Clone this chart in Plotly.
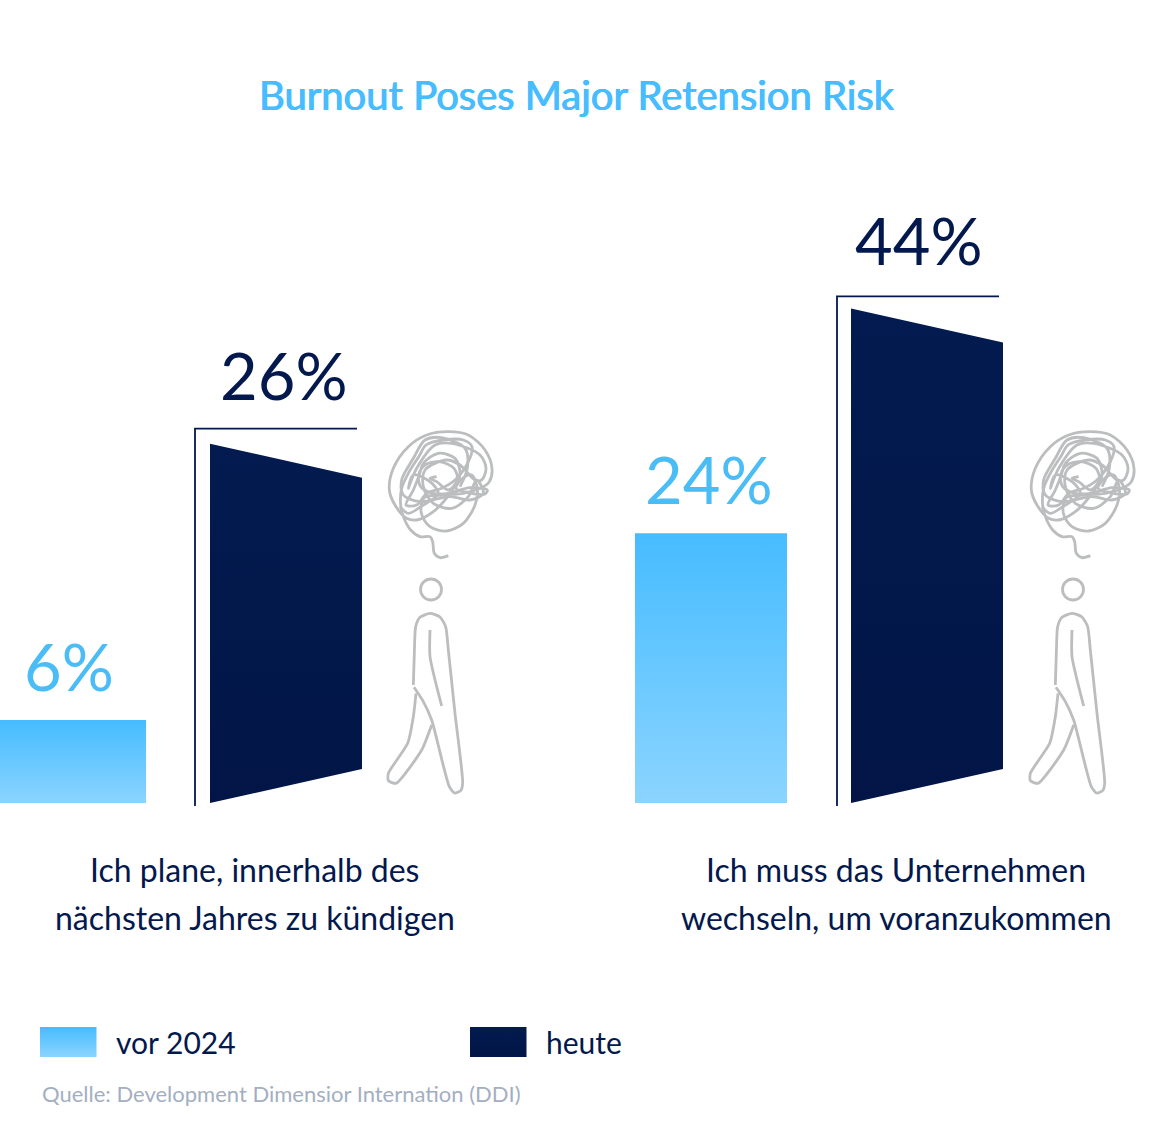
import plotly.graph_objects as go

# Survey values, in percent
categories = [
    ["Ich plane, innerhalb des", "nächsten Jahres zu kündigen"],
    ["Ich muss das Unternehmen", "wechseln, um voranzukommen"],
]
series_names = ["vor 2024", "heute"]
vor_2024 = [6, 24]
heute = [26, 44]

WIDTH, HEIGHT = 1152, 1122
BASELINE = 803
PX_PER_PERCENT = [13.82, 11.24]   # each group has its own height scale
AXES = ["y", "y2"]
BAR_LEFT = [-6, 635]
DOOR_LEFT = [210, 851]
BAR_W = 152
SKEW = 34

NAVY = "#03184C"
SKY = "#47BDFF"
SKY_TEXT = "#4ABCF6"
GREY = "#BBBDBE"
SKY_FADE = dict(type="vertical", colorscale=[[0, "#8BD4FF"], [1, "#46BCFF"]])
NAVY_FADE = dict(type="vertical", colorscale=[[0, "#021546"], [1, "#031B50"]])

FONT = "Lato"
fig = go.Figure()


def px_line(xs, ys, dx=0, width=2.8, smoothing=1.0):
    """Thin grey illustration stroke, in page pixels."""
    fig.add_trace(go.Scatter(
        x=[x + dx for x in xs], y=ys, yaxis="y3", mode="lines",
        line=dict(color=GREY, width=width, shape="spline", smoothing=smoothing, simplify=False),
        hoverinfo="skip", showlegend=False))


def scaled(points, ox, oy):
    return [ox + p[0] / 3 for p in points], [oy + p[1] / 3 for p in points]


# Tangled thought above the walking figure: the tail and main pen stroke...
TANGLE = [
    (205, 392), (180, 398), (163, 385), (158, 350), (150, 335), (120, 335), (92, 315), (72, 280), (62, 240),
    (65, 190), (85, 145), (118, 92), (138, 60), (190, 45), (250, 45), (276, 65), (265, 110), (225, 165), (185, 190),
    (140, 205), (110, 240), (78, 240), (100, 195), (118, 150), (130, 115), (175, 85), (225, 100), (240, 150),
    (210, 205), (160, 260), (110, 285), (80, 280), (45, 240), (28, 195), (40, 130), (85, 65), (140, 30),
    (205, 20), (265, 30), (315, 75), (336, 130), (328, 170), (300, 190), (250, 205), (190, 210), (132, 218),
    (124, 265), (150, 305), (200, 318), (250, 295), (285, 240), (292, 190), (275, 150), (248, 160), (228, 190),
    (262, 202), (315, 207), (322, 195), (270, 188), (205, 205), (160, 205), (122, 185), (116, 150), (135, 120),
    (178, 110), (222, 130), (232, 165), (205, 195), (170, 170), (150, 160), (170, 155),
]
# ...and the extra passes that thicken the knot
TANGLE_EXTRA = [
    (60, 245), (85, 265), (130, 240), (175, 205), (150, 170), (100, 150), (85, 190), (110, 130), (165, 60),
    (215, 55), (300, 90), (318, 130), (305, 165), (285, 165), (240, 120), (200, 105), (135, 135), (130, 185),
    (160, 235), (215, 250), (265, 215), (290, 165), (310, 205), (270, 225), (210, 215), (120, 230), (70, 210),
    (65, 165), (100, 100), (135, 45), (185, 38), (255, 70), (262, 130), (240, 185),
]
BODY = [
    (100, 345), (103, 250), (107, 170), (120, 142), (150, 130), (180, 141), (197, 170), (205, 240), (225, 430),
    (248, 640), (242, 662), (224, 669), (208, 650), (155, 450), (130, 395), (102, 352),
]
ARM = [(150, 180), (150, 260), (185, 408)]
BACK_LEG = [
    (108, 370), (100, 440), (83, 520), (25, 610), (25, 632), (48, 640), (125, 540), (155, 465),
]

shapes = []
for dx in (0, 642):
    for path in (TANGLE, TANGLE_EXTRA):
        px_line(*scaled(path, 380, 425), dx, smoothing=0.9)
    for path in (BODY, ARM, BACK_LEG):
        px_line(*scaled(path, 380, 570), dx, smoothing=0.6)
    shapes.append(dict(type="circle", xref="x", yref="y3",
                       x0=420.5 + dx, x1=441.5 + dx, y0=579, y1=600,
                       line=dict(color=GREY, width=2.8)))

annotations = []


def note(text, x, y, size, color, xanchor="center", yref="y3", yshift=0, shadow=None):
    font = dict(family=FONT, size=size, color=color)
    if shadow:
        font["shadow"] = shadow
    annotations.append(dict(text=text, x=x, y=y, xref="x", yref=yref, showarrow=False,
                            xanchor=xanchor, yanchor="middle", yshift=yshift, font=font))


VALUE_X_OLD = [68.5, 708.5]
VALUE_X_NOW = [283.5, 918.5]
VALUE_RISE_NOW = [69, 68]

for i in range(2):
    s = PX_PER_PERCENT[i]
    ax = AXES[i]

    # Earlier value: plain rectangle
    v = vor_2024[i]
    fig.add_trace(go.Scatter(
        x=[BAR_LEFT[i], BAR_LEFT[i], BAR_LEFT[i] + BAR_W, BAR_LEFT[i] + BAR_W, BAR_LEFT[i]],
        y=[0, v, v, 0, 0], yaxis=ax, mode="lines", fill="toself", line=dict(width=0),
        fillgradient=SKY_FADE, name=series_names[0], showlegend=False))
    note(f"{v}%", VALUE_X_OLD[i], v, 65, SKY_TEXT, yref=ax, yshift=54)

    # Current value: door leaf in perspective, inside a frame
    v = heute[i]
    d = DOOR_LEFT[i]
    fig.add_trace(go.Scatter(
        x=[d, d, d + BAR_W, d + BAR_W, d],
        y=[0, v, v - SKEW / s, SKEW / s, 0], yaxis=ax, mode="lines", fill="toself", line=dict(width=0),
        fillgradient=NAVY_FADE, name=series_names[1], showlegend=False))
    frame_x = d - 15 + i
    frame_gap = 15 if i == 0 else 12
    fig.add_trace(go.Scatter(
        x=[frame_x, frame_x, frame_x + 162], y=[-3 / s, v + frame_gap / s, v + frame_gap / s],
        yaxis=ax, mode="lines", line=dict(color=NAVY, width=1.8), hoverinfo="skip", showlegend=False))
    note(f"{v}%", VALUE_X_NOW[i], v, 65, NAVY, yref=ax, yshift=VALUE_RISE_NOW[i])

    for line, y in zip(categories[i], (869.5, 917.5)):
        note(line, 254.5 + i * 641.5, y, 32, NAVY)

# Legend row
for x0, name, gradient, text_x in ((40, series_names[0], SKY_FADE, 114), (470, series_names[1], NAVY_FADE, 544)):
    fig.add_trace(go.Scatter(
        x=[x0, x0, x0 + 56.5, x0 + 56.5, x0], y=[1057, 1027, 1027, 1057, 1057], yaxis="y3",
        mode="lines", fill="toself", line=dict(width=0), fillgradient=gradient,
        hoverinfo="skip", showlegend=False))
    note(name, text_x, 1042, 30, NAVY, xanchor="left")

note("Burnout Poses Major Retension Risk", 577, 94.5, 40, SKY,
     shadow=f"0.5px 0 0 {SKY}, -0.5px 0 0 {SKY}")
note("Quelle: Development Dimensior Internation (DDI)", 40, 1093, 22, "#A3AFC1", xanchor="left")


def value_axis(s, **extra):
    return dict(range=[-(HEIGHT - BASELINE) / s, BASELINE / s], visible=False, fixedrange=True, **extra)


fig.update_layout(
    width=WIDTH, height=HEIGHT, autosize=False,
    margin=dict(l=0, r=0, t=0, b=0),
    paper_bgcolor="white", plot_bgcolor="white",
    xaxis=dict(range=[0, WIDTH], visible=False, fixedrange=True),
    yaxis=value_axis(PX_PER_PERCENT[0]),
    yaxis2=value_axis(PX_PER_PERCENT[1], overlaying="y"),
    yaxis3=dict(range=[HEIGHT, 0], visible=False, fixedrange=True, overlaying="y"),
    shapes=shapes, annotations=annotations, showlegend=False,
)
fig.write_html("out.html")
